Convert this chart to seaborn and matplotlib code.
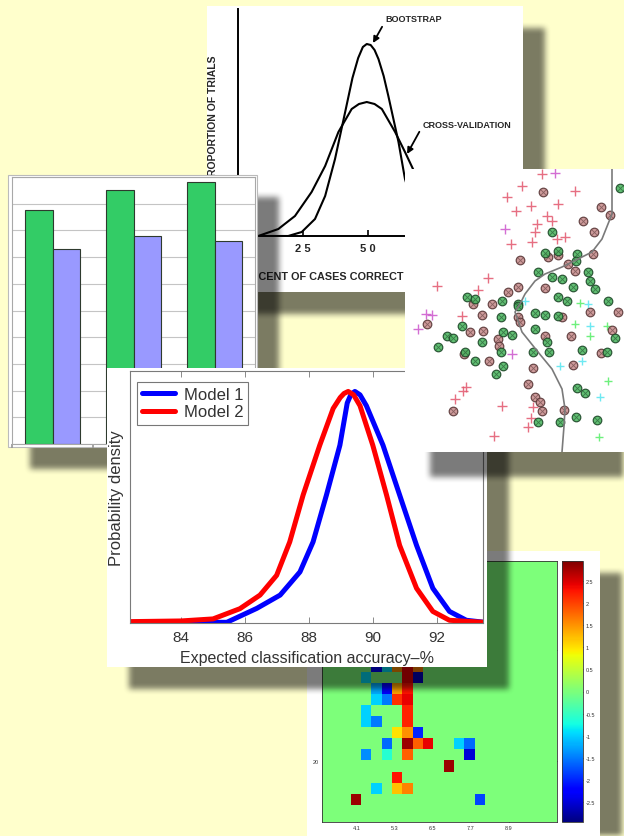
import numpy as np
import pandas as pd
import matplotlib
matplotlib.use("Agg")
import matplotlib.pyplot as plt
import seaborn as sns
from matplotlib.patches import Rectangle

W, H = 624, 837

# --- bootstrap vs cross-validation (percent of cases correct / proportion of trials)
boot_x = [0, 19.3, 24.5, 29.6, 33.5, 37.3, 41.2, 44.0, 46.2, 48.0, 49.5, 51.0, 52.5, 54.0, 56.0, 57.8, 61.7, 64.2, 68.0, 72.0, 78.0, 100]
boot_y = [0, 0, 0.02, 0.085, 0.20, 0.385, 0.62, 0.79, 0.89, 0.945, 0.96, 0.955, 0.93, 0.885, 0.80, 0.70, 0.47, 0.285, 0.12, 0.04, 0, 0]
cv_x = [0, 7.8, 15.5, 21.9, 28.3, 33.5, 38.6, 43.7, 46.5, 49.5, 52.5, 55.3, 60.4, 64.2, 70, 76, 82, 90, 100]
cv_y = [0, 0, 0.035, 0.10, 0.22, 0.35, 0.52, 0.635, 0.66, 0.67, 0.66, 0.635, 0.52, 0.42, 0.26, 0.13, 0.05, 0.01, 0]
boot_ticks = [25, 50, 75]
boot_tick_labels = ["2 5", "5 0", "7 5"]

# --- bar chart
bar_groups = ["1", "2", "3"]
bar_green = [8.75, 9.5, 9.8]
bar_purple = [7.3, 7.8, 7.6]

# --- scatter (classifier decision boundary)
red_plus_x = [13.7, 11.7, 17.0, 10.2, 12.6, 15.3, 11.1, 14.2, 14.7, 13.2, 13.0, 12.7, 15.2, 16.0,
              10.6, 8.3, 3.2, 7.3, 5.7, 6.1, 5.8, 5.0, 9.7, 12.8, 12.6, 12.3, 8.9]
red_plus_y = [27.8, 26.6, 26.1, 25.5, 24.6, 24.8, 24.1, 23.6, 23.1, 22.8, 22.0, 21.0, 21.3, 21.5,
              20.8, 17.4, 16.6, 16.2, 13.6, 6.5, 6.1, 5.3, 4.6, 4.5, 3.4, 2.5, 1.6]
mag_plus_x = [15.0, 10.0, 2.1, 2.7, 1.3, 10.7]
mag_plus_y = [27.9, 22.3, 13.8, 13.7, 12.3, 9.8]
cyan_plus_x = [18.5, 17.7, 15.5, 19.5, 18.3, 12.0]
cyan_plus_y = [12.6, 9.1, 8.6, 5.5, 14.8, 15.1]
green_plus_x = [17.0, 18.5, 20.2, 20.3, 19.4, 17.5]
green_plus_y = [12.8, 11.6, 12.6, 7.1, 1.5, 14.9]
green_circ_x = [14.7, 14.0, 15.3, 17.2, 17.1, 21.5, 13.3, 14.7, 15.7, 18.3, 18.5, 19.0, 16.8, 15.3,
                16.2, 6.2, 7.0, 9.7, 11.3, 20.3, 5.7, 4.2, 4.8, 3.3, 7.7, 9.6, 9.8, 10.7, 9.6, 7.0,
                9.8, 9.1, 13.0, 14.0, 15.3, 13.0, 14.2, 14.4, 12.8, 11.3, 6.0, 17.7, 20.2, 21.0,
                17.2, 18.0, 17.1, 15.5, 19.2, 13.3]
green_circ_y = [22.0, 19.9, 20.1, 19.8, 19.1, 26.4, 18.0, 17.5, 17.3, 18.0, 17.1, 16.3, 16.5, 15.5,
                15.1, 15.5, 15.3, 15.1, 14.8, 15.1, 12.6, 11.6, 11.4, 10.5, 11.0, 13.5, 12.0, 11.7, 10.0, 9.1,
                8.6, 7.8, 13.9, 13.7, 13.6, 12.3, 11.0, 10.0, 10.0, 14.6, 10.0, 10.2, 10.0, 11.4,
                6.4, 5.9, 3.5, 3.0, 3.2, 3.0]
brown_circ_x = [13.8, 19.6, 20.5, 17.8, 18.9, 18.8, 11.5, 11.3, 16.3, 17.0, 14.0, 10.3, 6.8, 14.3,
                15.3, 2.2, 7.7, 6.5, 7.8, 9.3, 9.4, 5.9, 8.4, 11.3, 11.5, 15.7, 18.5, 21.3, 20.7,
                14.0, 16.6, 19.6, 16.8, 12.8, 12.3, 13.0, 13.5, 13.7, 15.9, 4.8, 8.7]
brown_circ_y = [26.0, 24.5, 23.7, 23.1, 22.0, 19.8, 19.2, 16.5, 18.8, 18.1, 16.4, 16.0, 14.8, 19.5,
                19.7, 12.8, 13.7, 12.0, 12.1, 11.3, 10.6, 9.8, 9.1, 13.5, 13.0, 13.5, 14.0, 14.0, 12.2,
                11.6, 11.6, 9.9, 8.7, 8.4, 6.8, 5.5, 5.0, 4.1, 4.2, 4.1, 14.8]
bound_x = [20.7, 20.7, 19.7, 18.7, 17.3, 15.7, 14.0, 13.0, 12.0, 11.5, 11.0, 11.7, 13.3, 14.7, 15.7, 16.0, 15.9, 15.7]
bound_y = [28.3, 23.8, 21.3, 20.0, 19.3, 18.5, 17.8, 17.1, 15.8, 14.8, 14.0, 12.0, 10.0, 8.3, 6.3, 4.3, 2.6, 0]

# --- model comparison densities
m1_x = [82.4, 85.43, 86.37, 87.1, 87.72, 88.13, 88.55, 88.97, 89.2, 89.32, 89.44, 89.6, 89.8, 90.32, 90.84, 91.37, 91.88, 92.4, 92.93, 93.5]
m1_y = [0, 0, 0.0205, 0.040, 0.074, 0.118, 0.187, 0.26, 0.322, 0.335, 0.339, 0.334, 0.318, 0.26, 0.187, 0.113, 0.05, 0.016, 0.003, 0]
m2_x = [82.4, 84.0, 85.0, 85.84, 86.47, 86.99, 87.4, 87.82, 88.34, 88.76, 88.98, 89.1, 89.23, 89.4, 89.6, 90.0, 90.43, 90.84, 91.37, 91.88, 92.4, 93.5]
m2_y = [0.001, 0.002, 0.005, 0.02, 0.04, 0.069, 0.118, 0.187, 0.26, 0.314, 0.33, 0.336, 0.339, 0.334, 0.318, 0.26, 0.187, 0.113, 0.05, 0.016, 0.003, 0]
dens_ticks = [84, 86, 88, 90, 92]

# --- heatmap cells (row, col, value); everything else is 0
hm_rows = [9, 9, 9, 9, 9, 10, 10, 10, 11, 11, 11, 11, 12, 12, 12, 12, 13, 13, 14, 14, 14,
           15, 15, 15, 16, 16, 16, 16, 16, 16, 17, 17, 17, 17, 18, 19, 20, 20, 20, 21, 21]
hm_cols = [5, 6, 7, 8, 9, 4, 8, 9, 5, 6, 7, 8, 5, 6, 7, 8, 4, 8, 4, 5, 8,
           7, 8, 9, 6, 8, 9, 10, 13, 14, 4, 6, 8, 14, 12, 7, 5, 7, 8, 3, 15]
hm_vals = [-2.2, -0.9, 1.5, 2.4, 1.6, -0.9, 2.4, -2.6, -1.2, -2.2, 1.4, 2.3, -1.0, -1.5, 2.1, 2.4, -1.0, 2.2, -1.0, -1.5, 2.2,
           1.0, 1.5, -2.0, -1.6, 2.8, 1.8, 2.4, -1.0, -1.6, -1.4, -0.6, 1.8, -2.5, 2.8, 2.3, -1.0, 1.2, 1.6, 2.8, -1.8]
hm_xticks = [4.1, 5.3, 6.5, 7.7, 8.9]
hm_yticks = [10, 20]
cb_ticks = [2.5, 2, 1.5, 1, 0.5, 0, -0.5, -1, -1.5, -2, -2.5]

sns.set_theme(style="white")
plt.rcParams["font.family"] = ["Liberation Sans", "DejaVu Sans"]
plt.rcParams["axes.unicode_minus"] = False

fig = plt.figure(figsize=(W / 100, H / 100), dpi=100)
fig.patch.set_facecolor("#FFFFCC")


def blur(a, r):
    k = np.ones(2 * r + 1) / (2 * r + 1)
    a = np.array([np.convolve(row, k, mode="same") for row in a])
    a = np.array([np.convolve(col, k, mode="same") for col in a.T]).T
    return a


def paper(x0, y0, x1, y1, z, off=22, edge="none"):
    # white sheet with a soft drop shadow, drawn in figure pixels
    ax = fig.add_axes([0, 0, 1, 1], zorder=z)
    ax.axis("off")
    mask = np.zeros((H, W))
    mask[max(y0 + off, 0):min(y1 + off, H), max(x0 + off, 0):min(x1 + off, W)] = 1
    mask = blur(blur(mask, 3), 3)
    rgba = np.zeros((H, W, 4))
    rgba[..., 3] = mask * 0.52
    ax.imshow(rgba, extent=(0, W, H, 0), interpolation="bilinear", aspect="auto")
    sheet = Rectangle((x0, y0), x1 - x0, y1 - y0, facecolor="white", edgecolor=edge, lw=0.8)
    ax.add_patch(sheet)
    ax.set_xlim(0, W)
    ax.set_ylim(H, 0)
    return ax, sheet


def px_axes(x0, y0, x1, y1, z):
    return fig.add_axes([x0 / W, 1 - y1 / H, (x1 - x0) / W, (y1 - y0) / H], zorder=z)


# ---------------- bootstrap panel
p1, sheet1 = paper(207, 7, 523, 293, 1)
ax1 = px_axes(238, 10, 521, 237, 1.5)
ax1.patch.set_alpha(0)
sns.lineplot(x=boot_x, y=boot_y, color="black", lw=1.5, ax=ax1)
sns.lineplot(x=cv_x, y=cv_y, color="black", lw=1.5, ax=ax1)
ax1.set_xlim(0, 108.8)
ax1.set_ylim(0, 1.135)
for s in ["top", "right"]:
    ax1.spines[s].set_visible(False)
for s in ["left", "bottom"]:
    ax1.spines[s].set_color("black")
    ax1.spines[s].set_linewidth(1.4)
ax1.set_xticks(boot_ticks, boot_tick_labels, fontsize=8, fontweight="bold")
ax1.set_yticks([])
ax1.tick_params(axis="x", direction="in", length=4, width=1.2, color="black", pad=5, bottom=True)
arrow = dict(arrowstyle="-|>", color="black", lw=1.3, mutation_scale=9, shrinkA=0, shrinkB=0)
ax1.annotate("BOOTSTRAP", xy=(51.9, 0.965), xytext=(56.5, 1.085), fontsize=6.5, fontweight="bold",
             va="center", ha="left", arrowprops=dict(arrow, relpos=(0, 0.2)))
ax1.annotate("CROSS-VALIDATION", xy=(65.0, 0.41), xytext=(70.8, 0.56), fontsize=6.5, fontweight="bold",
             va="center", ha="left", arrowprops=dict(arrow, relpos=(0, 0.2)))
ylab = p1.text(213, 55, "PROPORTION OF TRIALS", rotation=90, ha="center", va="top",
               fontsize=7.5, fontweight="bold")
ylab.set_clip_path(sheet1)
p1.text(236, 277, "PERCENT OF CASES CORRECT", ha="left", va="center", fontsize=7.8, fontweight="bold")

# ---------------- bar chart panel
p2, _ = paper(8, 176, 257, 448, 2, edge="#BBBBBB")
ax2 = px_axes(12, 178, 255, 445, 2.5)
bar_df = pd.DataFrame({
    "group": bar_groups * 2,
    "series": ["green"] * 3 + ["purple"] * 3,
    "value": bar_green + bar_purple,
})
sns.barplot(data=bar_df, x="group", y="value", hue="series", order=bar_groups,
            palette=["#33CC66", "#9999FF"], saturation=1, width=0.667,
            edgecolor="#2E3A2E", linewidth=0.8, legend=False, ax=ax2)
ax2.set_xlim(-0.5, 2.5)
ax2.set_ylim(0, 10)
ax2.set_yticks(range(11))
ax2.set_xticks([-0.5, 0.5, 1.5, 2.5])
ax2.yaxis.grid(True, color="#C4C4C4", lw=0.8)
ax2.set_axisbelow(True)
ax2.tick_params(labelleft=False, labelbottom=False, bottom=True, length=3, color="#999999")
ax2.set_xlabel("")
ax2.set_ylabel("")
for s in ax2.spines.values():
    s.set_color("#A8A8A8")
    s.set_linewidth(0.8)

# ---------------- heatmap panel
p3, _ = paper(307, 552, 600, 870, 3)
axh = px_axes(322, 562, 557, 823, 3.5)
axc = px_axes(562, 562, 583, 823, 3.5)
grid = np.zeros((24, 23))
grid[hm_rows, hm_cols] = hm_vals
sns.heatmap(grid, ax=axh, cbar_ax=axc, cmap="jet", vmin=-2.95, vmax=2.95,
            xticklabels=False, yticklabels=False)
axh.set_xlim(0.2, 23)
axh.set_ylim(23.55, 0)
hm_x0, hm_dx = 2.926, 0.326
axh.set_xticks([(v - hm_x0) / hm_dx for v in hm_xticks], [str(v) for v in hm_xticks])
# the "10" label sits under the density sheet, so only "20" is shown
axh.set_yticks([v - 1.95 for v in hm_yticks], ["" if v == 10 else str(v) for v in hm_yticks])
axh.tick_params(direction="in", length=2, width=0.6, labelsize=4, colors="#333333",
                top=True, bottom=True, left=True, right=True, pad=2)
for s in axh.spines.values():
    s.set_visible(True)
    s.set_color("#333333")
    s.set_linewidth(0.6)
cbar = axh.collections[0].colorbar
cbar.set_ticks(cb_ticks, labels=[f"{t:g}" for t in cb_ticks])
axc.tick_params(direction="in", length=2, width=0.6, labelsize=4, colors="#333333", right=True, pad=2)
cbar.outline.set_edgecolor("#333333")
cbar.outline.set_linewidth(0.6)

# ---------------- density panel
p4, _ = paper(107, 369, 487, 668, 4)
ax4 = px_axes(130, 372, 483, 624, 4.5)
sns.lineplot(x=m1_x, y=m1_y, color="#0000FF", lw=3.6, label="Model 1", ax=ax4)
sns.lineplot(x=m2_x, y=m2_y, color="#FF0000", lw=3.6, label="Model 2", ax=ax4)
ax4.set_xlim(82.4, 93.45)
ax4.set_ylim(-0.001, 0.369)
ax4.set_xticks(dens_ticks, [str(t) for t in dens_ticks])
ax4.set_yticks([])
ax4.tick_params(axis="x", direction="in", length=4, width=0.6, color="#777777", top=True, bottom=True,
                labelsize=11, labelcolor="#333333", pad=5)
ax4.set_xlabel("Expected classification accuracy\u2013%", fontsize=11.5, color="#333333", labelpad=4)
ax4.set_ylabel("Probability density", fontsize=12, color="#333333", labelpad=4)
for s in ax4.spines.values():
    s.set_color("#7A7A7A")
    s.set_linewidth(0.8)
leg = ax4.legend(loc="upper left", bbox_to_anchor=(7 / 353, 1 - 11 / 252), borderaxespad=0,
                 fontsize=12, frameon=True, fancybox=False, handlelength=2.0, handletextpad=0.5,
                 labelspacing=0.15, borderpad=0.3)
leg.get_frame().set_edgecolor("#555555")
leg.get_frame().set_linewidth(0.8)
for t in leg.get_texts():
    t.set_color("#333333")

# ---------------- scatter panel
p5, _ = paper(405, 170, 660, 453, 5, off=25)
ax5 = px_axes(405, 170, 624, 453, 5.5)
ax5.set_xlim(0, 21.9)
ax5.set_ylim(0, 28.3)
sns.lineplot(x=bound_x, y=bound_y, sort=False, estimator=None, color="#7A7A7A", lw=1.2, ax=ax5)
sns.scatterplot(x=red_plus_x, y=red_plus_y, marker="+", s=45, color="#E2566C", linewidth=1.0, alpha=0.85, ax=ax5)
sns.scatterplot(x=mag_plus_x, y=mag_plus_y, marker="+", s=45, color="#CC55CC", linewidth=1.0, alpha=0.85, ax=ax5)
sns.scatterplot(x=cyan_plus_x, y=cyan_plus_y, marker="+", s=40, color="#55E6F0", linewidth=1.0, alpha=0.85, ax=ax5)
sns.scatterplot(x=green_plus_x, y=green_plus_y, marker="+", s=40, color="#55EE66", linewidth=1.0, alpha=0.85, ax=ax5)
sns.scatterplot(x=brown_circ_x, y=brown_circ_y, marker="o", s=38, color="#C99090", edgecolor="#5A3838",
                linewidth=0.9, alpha=0.9, ax=ax5)
sns.scatterplot(x=brown_circ_x, y=brown_circ_y, marker="x", s=12, color="#5A3838", linewidth=0.6, alpha=0.6, ax=ax5)
sns.scatterplot(x=green_circ_x, y=green_circ_y, marker="o", s=38, color="#50B864", edgecolor="#1F4A2A",
                linewidth=0.9, alpha=0.9, ax=ax5)
sns.scatterplot(x=green_circ_x, y=green_circ_y, marker="x", s=12, color="#1F4A2A", linewidth=0.6, alpha=0.6, ax=ax5)
ax5.axis("off")

fig.savefig("out.png", dpi=100, facecolor=fig.get_facecolor())
